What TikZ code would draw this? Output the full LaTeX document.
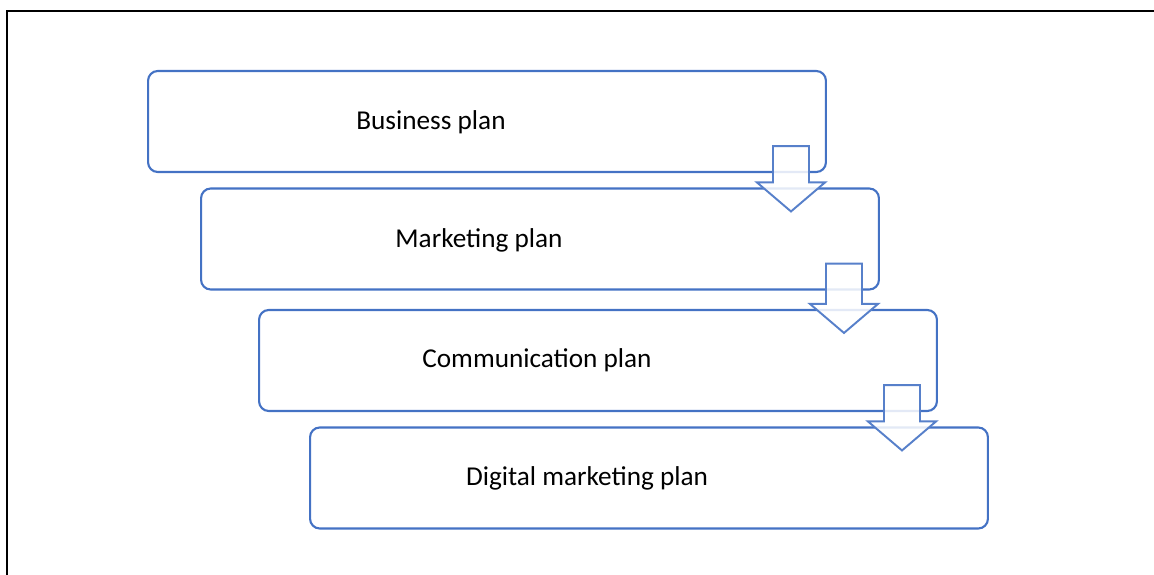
\documentclass[tikz,border=0pt]{standalone}
\usepackage{fontspec}
\setmainfont{Carlito}
\usetikzlibrary{calc}

\definecolor{planblue}{HTML}{4472C4}

\tikzset{
    planbox/.style={draw=planblue, line width=1.2pt, rounded corners=5.5pt,
        minimum width=13.56cm, minimum height=2.02cm, inner sep=0pt},
    plantext/.style={font=\fontsize{15.5}{18}\selectfont, inner sep=0pt},
    downarrow/.style={draw=planblue!90, line width=1.1pt, fill=white, fill opacity=0.85}
}

% Pfeil nach unten von Kasten #1 zu Kasten #2
\newcommand{\flowarrow}[2]{
    \coordinate (c) at ($(#1.south east)+(-36,0)$);
    \draw[downarrow]
        ($(c)+(-18,-27)$) -- ($(c)+(18,-27)$)
        -- ($(c |- #2.north)+(18,-5)$) -- ($(c |- #2.north)+(34,-5)$)
        -- ($(c |- #2.north)+(0,24)$)
        -- ($(c |- #2.north)+(-34,-5)$) -- ($(c |- #2.north)+(-18,-5)$)
        -- cycle;
}

\begin{document}
\begin{tikzpicture}[x=0.02cm,y=-0.02cm]
    \useasboundingbox (0,0) rectangle (1154,575);

    % Rahmen
    \draw[black, line width=1.2pt] (7,575) -- (7,11) -- (1154,11);

    % Kaesten
    \node[planbox] (business)  at (487,121.5) {};
    \node[planbox] (marketing) at (540,239)   {};
    \node[planbox] (communic)  at (598,360.5) {};
    \node[planbox] (digital)   at (649,478)   {};

    % Beschriftungen
    \node[plantext] (businesslbl)  at (431,122.5) {Business plan};
    \node[plantext] (marketinglbl) at (479,240.5) {Marketing plan};
    \node[plantext] (communiclbl)  at (537,360.5) {Communication plan};
    \node[plantext] (digitallbl)   at (587,478.5) {Digital marketing plan};

    % Pfeile
    \flowarrow{business}{marketing}
    \flowarrow{marketing}{communic}
    \flowarrow{communic}{digital}
\end{tikzpicture}
\end{document}
